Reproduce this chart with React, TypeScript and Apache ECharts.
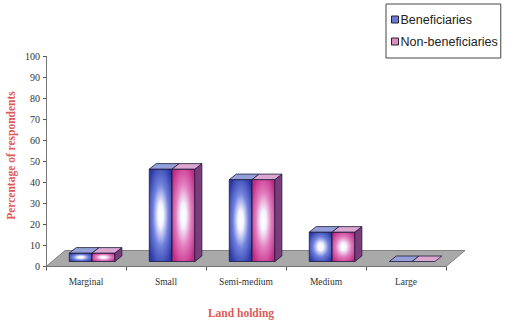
import React, { useEffect, useRef } from 'react';
import * as echarts from 'echarts';

// Land holding categories and the share of respondents (%) in each group
const categories = ['Marginal', 'Small', 'Semi-medium', 'Medium', 'Large'];
const beneficiaries = [4, 44, 39, 14, 0];
const nonBeneficiaries = [4, 44, 39, 14, 0];

const seriesNames = ['Beneficiaries', 'Non-beneficiaries'];

// Oblique projection used for the pseudo-3D look
const FLOOR_DX = 19;
const FLOOR_DY = -16;
const BAR_SHIFT_Y = -5; // bars stand part-way back on the floor
const BAR_DX = 7;
const BAR_DY = -5.5;

type Palette = {
  edge: string;
  mid: string;
  top: string;
  side: string;
};

const bluePalette: Palette = {
  edge: '#2a38a4',
  mid: '#7080dc',
  top: '#95a0d8',
  side: '#3a3f8a',
};

const pinkPalette: Palette = {
  edge: '#c22884',
  mid: '#e27cbe',
  top: '#dba6cf',
  side: '#7a3c7a',
};

const OUTLINE = '#1c1c3c';

function frontFill(p: Palette) {
  return new echarts.graphic.RadialGradient(0.5, 0.5, 0.62, [
    { offset: 0, color: '#ffffff' },
    { offset: 0.2, color: '#f4f4ff' },
    { offset: 0.55, color: p.mid },
    { offset: 1, color: p.edge },
  ]);
}

function makeBarRenderer(slot: number, p: Palette) {
  return (params: any, api: any) => {
    const idx = api.value(0);
    const val = api.value(1);
    const base = api.coord([idx, 0]);
    const peak = api.coord([idx, val]);
    const band = api.size([1, 0])[0];
    const barW = band * 0.285;
    const left = base[0] - band / 2 + band * 0.291 + slot * barW;
    const right = left + barW;
    const bottom = base[1] + BAR_SHIFT_Y;
    const top = peak[1] + BAR_SHIFT_Y;
    const h = bottom - top;

    const children: any[] = [];
    if (h > 0.5) {
      children.push({
        type: 'rect',
        shape: { x: left, y: top, width: barW, height: h },
        style: { fill: frontFill(p), stroke: OUTLINE, lineWidth: 0.8 },
      });
      children.push({
        type: 'polygon',
        shape: {
          points: [
            [right, top],
            [right + BAR_DX, top + BAR_DY],
            [right + BAR_DX, bottom + BAR_DY],
            [right, bottom],
          ],
        },
        style: { fill: p.side, stroke: OUTLINE, lineWidth: 0.8 },
      });
    }
    children.push({
      type: 'polygon',
      shape: {
        points: [
          [left, top],
          [right, top],
          [right + BAR_DX, top + BAR_DY],
          [left + BAR_DX, top + BAR_DY],
        ],
      },
      style: { fill: p.top, stroke: OUTLINE, lineWidth: 0.8 },
    });
    return { type: 'group', children };
  };
}

function renderFloor(params: any, api: any) {
  const cs = params.coordSys;
  const x0 = cs.x;
  const x1 = cs.x + cs.width;
  const y0 = cs.y + cs.height;
  return {
    type: 'polygon',
    shape: {
      points: [
        [x0, y0],
        [x1, y0],
        [x1 + FLOOR_DX, y0 + FLOOR_DY],
        [x0 + FLOOR_DX, y0 + FLOOR_DY],
      ],
    },
    style: { fill: '#a9a9a9', stroke: '#6e6e6e', lineWidth: 0.8 },
  };
}

const serif = '"Liberation Serif", "DejaVu Serif", serif';

export default function App() {
  const ref = useRef<HTMLDivElement>(null);

  useEffect(() => {
    if (!ref.current) return;
    document.body.style.margin = '0';
    const chart = echarts.init(ref.current, undefined, { renderer: 'svg' });

    chart.setOption({
      animation: false,
      backgroundColor: '#ffffff',
      grid: {
        left: 46,
        right: 63,
        top: 56.5,
        bottom: 55.5,
        outerBoundsMode: 'none',
      },
      legend: {
        data: seriesNames,
        orient: 'vertical',
        left: 386,
        top: 4,
        icon: 'rect',
        itemWidth: 7,
        itemHeight: 7,
        itemGap: 9,
        padding: [9, 3, 10, 5],
        borderColor: '#444',
        borderWidth: 1,
        borderRadius: 0,
        itemStyle: { borderColor: '#222', borderWidth: 1 },
        textStyle: {
          fontFamily: '"Liberation Sans", Arial, sans-serif',
          fontSize: 12.5,
          color: '#222',
          padding: [0, 0, 0, -3],
        },
      },
      xAxis: {
        type: 'category',
        data: categories,
        boundaryGap: true,
        name: 'Land holding',
        nameLocation: 'middle',
        nameGap: 40,
        nameMoveOverlap: false,
        nameTextStyle: {
          fontFamily: serif,
          fontWeight: 'bold',
          fontSize: 11.5,
          color: '#de5a5a',
          padding: [0, 10, 0, 0],
        },
        axisLine: { show: true, lineStyle: { color: '#6e6e6e', width: 1 } },
        axisTick: { show: true, length: 4, lineStyle: { color: '#555' } },
        axisLabel: {
          fontFamily: serif,
          fontSize: 9.5,
          color: '#333',
          margin: 10,
        },
        splitLine: { show: false },
      },
      yAxis: {
        type: 'value',
        min: 0,
        max: 100,
        interval: 10,
        name: 'Percentage of respondents',
        nameLocation: 'middle',
        nameGap: 29,
        nameMoveOverlap: false,
        nameTextStyle: {
          fontFamily: serif,
          fontWeight: 'bold',
          fontSize: 11.5,
          color: '#de5a5a',
          padding: [0, 0, 0, 12],
        },
        axisLine: { show: true, lineStyle: { color: '#777', width: 1 } },
        axisTick: { show: true, length: 3, lineStyle: { color: '#555' } },
        axisLabel: {
          fontFamily: serif,
          fontSize: 10,
          color: '#333',
          margin: 6,
        },
        splitLine: { show: false },
      },
      series: [
        {
          type: 'custom',
          name: 'floor',
          renderItem: renderFloor,
          data: [[0, 0]],
          z: 1,
          silent: true,
        },
        {
          type: 'custom',
          name: seriesNames[0],
          itemStyle: { color: '#6a78d6' },
          renderItem: makeBarRenderer(0, bluePalette),
          encode: { x: 0, y: 1 },
          data: beneficiaries.map((v, i) => [i, v]),
          z: 2,
        },
        {
          type: 'custom',
          name: seriesNames[1],
          itemStyle: { color: '#e08cc4' },
          renderItem: makeBarRenderer(1, pinkPalette),
          encode: { x: 0, y: 1 },
          data: nonBeneficiaries.map((v, i) => [i, v]),
          z: 3,
        },
      ],
    });

    return () => chart.dispose();
  }, []);

  return <div ref={ref} style={{ width: 509, height: 322 }} />;
}
